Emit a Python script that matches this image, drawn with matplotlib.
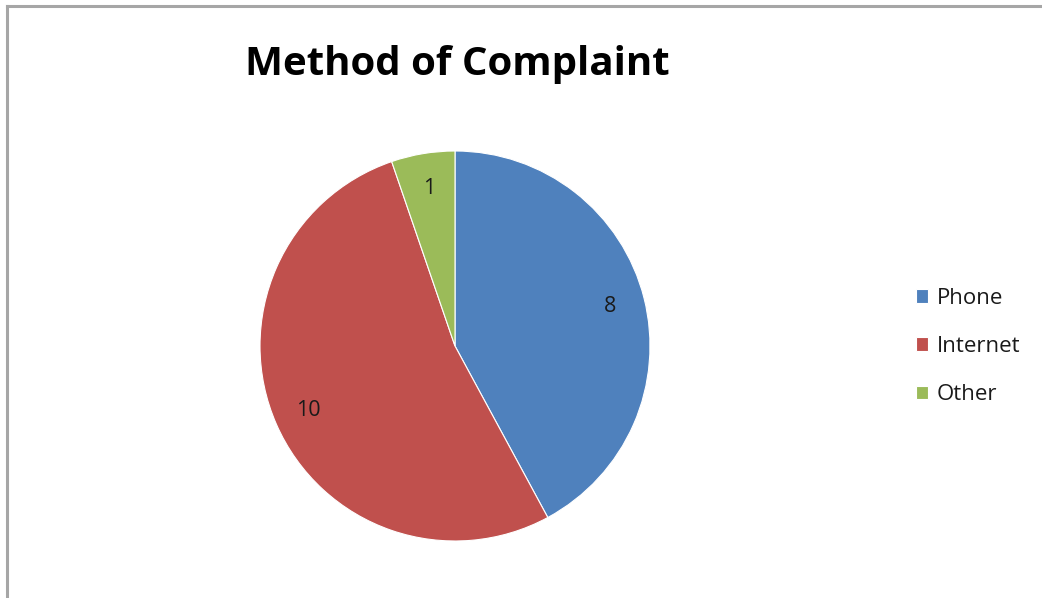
import matplotlib
matplotlib.use("Agg")
import matplotlib.pyplot as plt
from matplotlib.lines import Line2D

categories = ["Phone", "Internet", "Other"]
values = [8, 10, 1]
colors = ["#4F81BD", "#C0504D", "#9BBB59"]
title = "Method of Complaint"

W, H = 1042, 598
fig = plt.figure(figsize=(W / 100, H / 100), dpi=100)
fig.patch.set_facecolor("white")

# frame (top and left visible)
fig.add_artist(Line2D([6.5 / W, 6.5 / W], [0, 1 - 5.5 / H], transform=fig.transFigure,
                      color="#A6A6A6", lw=2.2))
fig.add_artist(Line2D([6.5 / W, 1], [1 - 5.5 / H, 1 - 5.5 / H], transform=fig.transFigure,
                      color="#A6A6A6", lw=2.2))

cx, cy, r = 455, 346, 195
ax = fig.add_axes([(cx - r) / W, (H - cy - r) / H, 2 * r / W, 2 * r / H])
wedges, texts, autotexts = ax.pie(
    values, colors=colors, startangle=90, counterclock=False,
    autopct=lambda p: f"{round(p * sum(values) / 100):d}", pctdistance=0.82,
    wedgeprops=dict(edgecolor="white", linewidth=0.8),
    textprops=dict(fontsize=15.5, family=["Open Sans", "DejaVu Sans"], color="#1a1a1a"),
)
ax.set_xlim(-1, 1)
ax.set_ylim(-1, 1)
ax.set_aspect("auto")
ax.axis("off")

fig.text(457 / W, 1 - 65 / H, title, ha="center", va="center", fontsize=29,
         fontweight="bold", family=["Open Sans", "DejaVu Sans"], color="black")

leg = fig.legend(wedges, categories, loc="center left",
                 bbox_to_anchor=(916 / W, 1 - 346.5 / H), frameon=False,
                 borderpad=0, borderaxespad=0,
                 prop=dict(family=["Open Sans", "DejaVu Sans"], size=16),
                 handlelength=0.55, handleheight=0.55, handletextpad=0.4,
                 labelspacing=1.23)
for t in leg.get_texts():
    t.set_color("#1a1a1a")

fig.savefig("out.png", dpi=100, facecolor="white")
